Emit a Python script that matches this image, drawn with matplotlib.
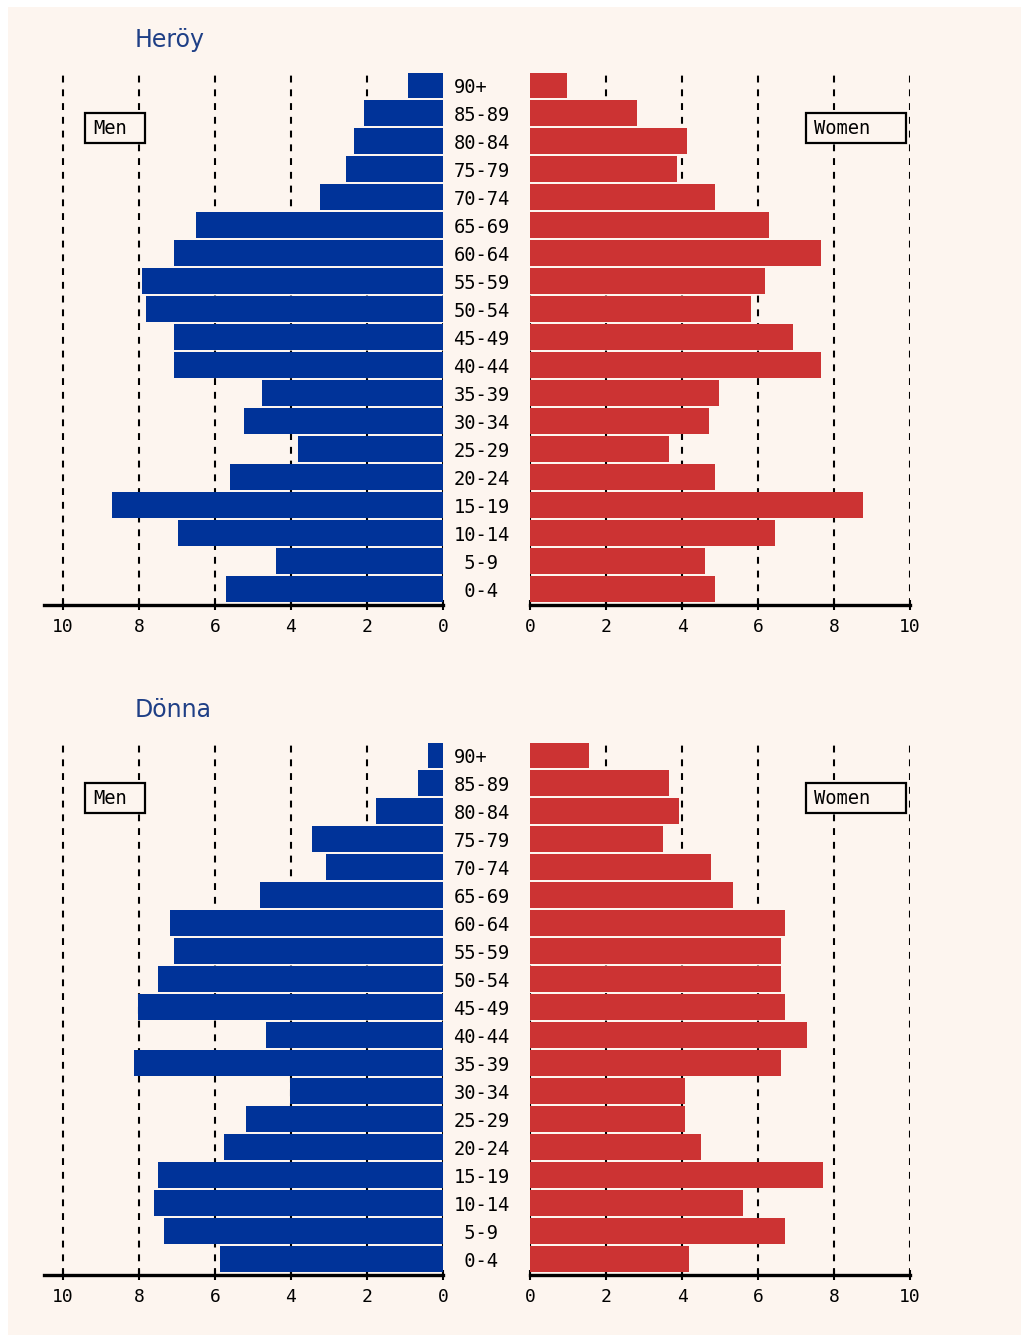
import matplotlib
matplotlib.use('Agg')
import matplotlib.pyplot as plt
from matplotlib.patches import Rectangle

W, H = 1021, 1340

age_groups = ['0-4', '5-9', '10-14', '15-19', '20-24', '25-29', '30-34', '35-39',
              '40-44', '45-49', '50-54', '55-59', '60-64', '65-69', '70-74',
              '75-79', '80-84', '85-89', '90+']
age_labels = [' 0-4', ' 5-9', '10-14', '15-19', '20-24', '25-29', '30-34', '35-39',
              '40-44', '45-49', '50-54', '55-59', '60-64', '65-69', '70-74',
              '75-79', '80-84', '85-89', '90+']

heroy_men = [5.71, 4.39, 6.97, 8.71, 5.61, 3.82, 5.24, 4.76, 7.08, 7.08,
             7.82, 7.92, 7.08, 6.5, 3.24, 2.55, 2.34, 2.08, 0.92]
heroy_women = [4.87, 4.61, 6.45, 8.76, 4.87, 3.66, 4.71, 4.97, 7.66, 6.92,
               5.82, 6.18, 7.66, 6.29, 4.87, 3.87, 4.13, 2.82, 0.97]
donna_men = [5.87, 7.34, 7.61, 7.5, 5.76, 5.18, 4.03, 8.13, 4.66, 8.03,
             7.5, 7.08, 7.18, 4.82, 3.08, 3.45, 1.76, 0.66, 0.39]
donna_women = [4.18, 6.71, 5.61, 7.71, 4.5, 4.08, 4.08, 6.61, 7.29, 6.71,
               6.61, 6.61, 6.71, 5.34, 4.76, 3.5, 3.92, 3.66, 1.55]

x_ticks = [0, 2, 4, 6, 8, 10]
x_ticklabels = ['0', '2', '4', '6', '8', '10']

panels = [('Heröy', heroy_men, heroy_women), ('Dönna', donna_men, donna_women)]

BG = '#fdf5ef'
BLUE = '#003399'
RED = '#cc3333'
TITLE_C = '#1f3f86'
MONO = 'DejaVu Sans Mono'

fig = plt.figure(figsize=(W / 100, H / 100), dpi=100, facecolor='white')
fig.add_artist(Rectangle((8 / W, 1 - 1335 / H), (W - 8) / W, (1335 - 7) / H,
                         transform=fig.transFigure, facecolor=BG, edgecolor='none', zorder=-10))


def px_rect(x0, y0, x1, y1):
    return [x0 / W, 1 - y1 / H, (x1 - x0) / W, (y1 - y0) / H]


def style_axis(ax):
    ax.set_facecolor('none')
    for s in ['top', 'left', 'right']:
        ax.spines[s].set_visible(False)
    ax.spines['bottom'].set_linewidth(2.4)
    ax.spines['bottom'].set_color('black')
    ax.set_xticks(x_ticks)
    ax.set_xticklabels(x_ticklabels, fontfamily=MONO, fontsize=13)
    ax.tick_params(axis='x', direction='inout', length=7, width=1.5, pad=6, colors='black')
    ax.xaxis.grid(True, color='black', linewidth=1.5, linestyle=(0, (3.3, 3.3)))
    ax.set_axisbelow(True)
    ax.set_ylim(-0.57, 18.43)


for p, (name, men, women) in enumerate(panels):
    off = 670 * p
    top, bot = 73 + off, 605 + off
    axL = fig.add_axes(px_rect(44, top, 443, bot))
    axR = fig.add_axes(px_rect(530, top, 910, bot))
    ypos = list(range(len(age_groups)))

    axL.barh(ypos, men, height=0.91, color=BLUE, zorder=3)
    axL.set_xlim(10.5, 0)
    style_axis(axL)
    axL.yaxis.tick_right()
    axL.set_yticks(ypos)
    axL.set_yticklabels(age_labels, fontfamily=MONO, fontsize=13.5)
    axL.tick_params(axis='y', length=0, pad=7.5)
    for t in axL.get_yticklabels():
        t.set_horizontalalignment('left')

    axR.barh(ypos, women, height=0.91, color=RED, zorder=3)
    axR.set_xlim(0, 10)
    style_axis(axR)
    axR.set_yticks([])

    fig.text(135 / W, 1 - (40 + off) / H, name, fontsize=17, color=TITLE_C,
             va='center', ha='left')

    for (x0, x1, lab) in [(85, 145, 'Men'), (806, 906, 'Women')]:
        y0, y1 = 113 + off, 143 + off
        fig.add_artist(Rectangle((x0 / W, 1 - y1 / H), (x1 - x0) / W, (y1 - y0) / H,
                                 transform=fig.transFigure, facecolor=BG,
                                 edgecolor='black', linewidth=1.6, zorder=5))
        fig.text((x0 + 8) / W, 1 - ((y0 + y1) / 2) / H, lab, fontfamily=MONO,
                 fontsize=13.5, va='center', ha='left', zorder=6)

fig.savefig('out.png', dpi=100, facecolor='white')
